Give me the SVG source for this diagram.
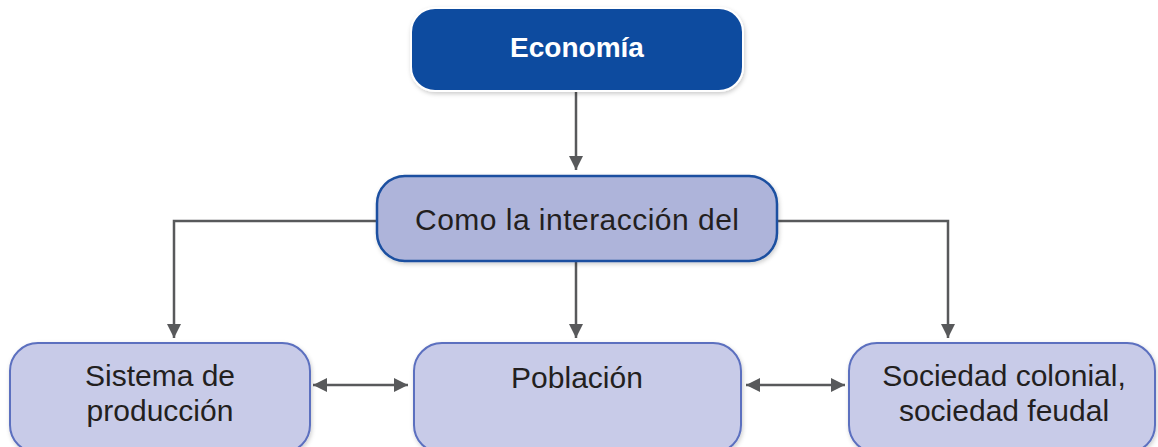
<svg xmlns="http://www.w3.org/2000/svg" width="1158" height="447" viewBox="0 0 1158 447">
<style>
.t{font-family:"Liberation Sans",Arial,sans-serif;fill:#231f20;text-anchor:middle;font-size:30px}
.lvl2{fill:#aeb4da;stroke:#1a4fa0;stroke-width:2.5}
.lvl3{fill:#c8cbe8;stroke:#5b6fbf;stroke-width:2}
.c{fill:none;stroke:#58595b;stroke-width:2.5}
</style>
<defs>
<filter id="sh" x="-10%" y="-10%" width="120%" height="130%">
<feDropShadow dx="1" dy="2" stdDeviation="2" flood-color="#000" flood-opacity="0.2"/>
</filter>
<marker id="ar" viewBox="0 0 10 10" refX="10" refY="5" markerWidth="14" markerHeight="14" markerUnits="userSpaceOnUse" orient="auto-start-reverse">
<path d="M0,0 L10,5 L0,10 z" fill="#58595b"/>
</marker>
</defs>
<g id="connectors">
<path class="c" d="M576,92 V170" marker-end="url(#ar)"/>
<path class="c" d="M376,221 H174 V338" marker-end="url(#ar)"/>
<path class="c" d="M777,221 H948 V338" marker-end="url(#ar)"/>
<path class="c" d="M576,261 V338" marker-end="url(#ar)"/>
<path class="c" d="M313,385 H408" marker-start="url(#ar)" marker-end="url(#ar)"/>
<path class="c" d="M746,385 H845" marker-start="url(#ar)" marker-end="url(#ar)"/>
</g>
<g id="economia">
<rect x="411" y="8" width="332" height="83" rx="24" fill="#114c9f" stroke="#fff" stroke-width="2" filter="url(#sh)"/>
<text x="577" y="57" font-family="'Liberation Sans',Arial,sans-serif" font-weight="bold" font-size="28" fill="#fff" text-anchor="middle">Economía</text>
</g>
<g id="interaccion">
<rect class="lvl2" x="377" y="176" width="400" height="85" rx="28" filter="url(#sh)"/>
<text class="t" x="577" y="230" textLength="324">Como la interacción del</text>
</g>
<g id="sistema">
<rect class="lvl3" x="10" y="343" width="300" height="110" rx="28" filter="url(#sh)"/>
<text class="t" x="160" y="386">Sistema de</text>
<text class="t" x="160" y="421">producción</text>
</g>
<g id="poblacion">
<rect class="lvl3" x="414" y="343" width="327" height="110" rx="28" filter="url(#sh)"/>
<text class="t" x="577" y="388">Población</text>
</g>
<g id="sociedad">
<rect class="lvl3" x="849" y="343" width="306" height="110" rx="28" filter="url(#sh)"/>
<text class="t" x="1004" y="386">Sociedad colonial,</text>
<text class="t" x="1004" y="421">sociedad feudal</text>
</g>
</svg>
